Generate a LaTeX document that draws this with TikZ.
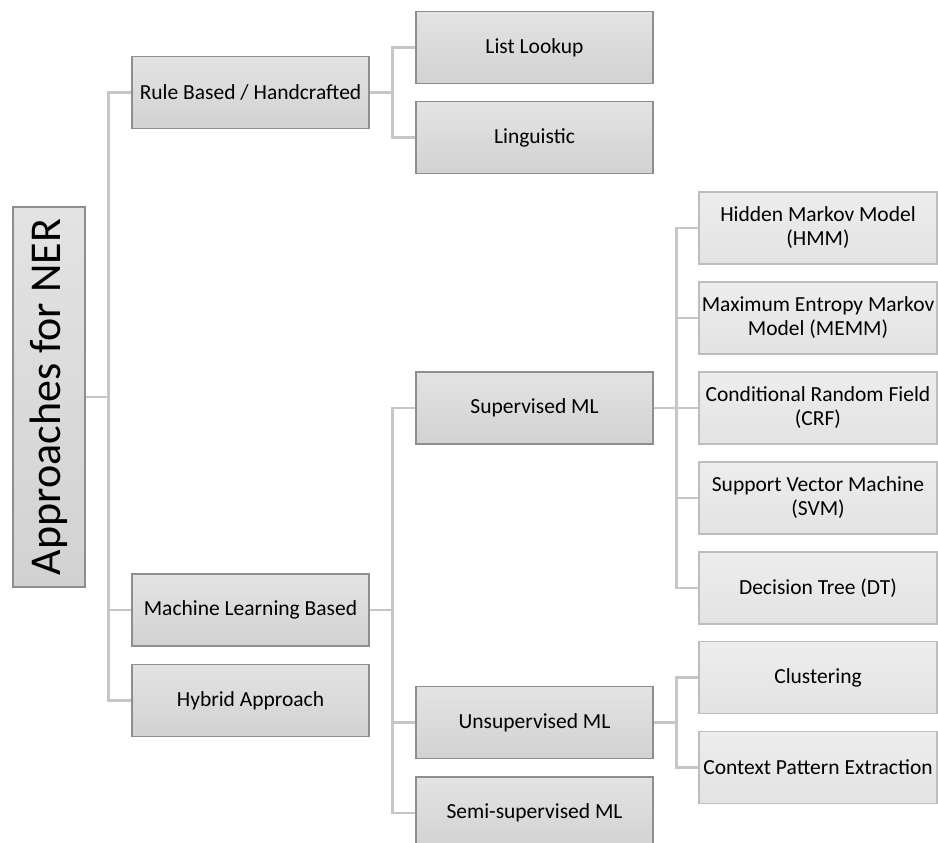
\documentclass[tikz,border=0pt]{standalone}
\usepackage{fontspec}
\setmainfont{Carlito}
\usepackage{tikz}
\usetikzlibrary{positioning}
\definecolor{nerInk}{HTML}{000000}
\definecolor{nerLink}{HTML}{C6C6C6}
\definecolor{nerEdge}{HTML}{8E8E8E}
\definecolor{nerLeafEdge}{HTML}{BDBDBD}
\definecolor{nerTop}{HTML}{E3E3E3}
\definecolor{nerBot}{HTML}{D2D2D2}
\definecolor{nerLeafTop}{HTML}{EDEDED}
\definecolor{nerLeafBot}{HTML}{E3E3E3}
\tikzset{
 nertree/.style={x=1pt,y=-1pt,text=nerInk,font=\fontsize{21.5}{24}\selectfont},
 box/.style={rectangle,draw=nerEdge,top color=nerTop,bottom color=nerBot,line width=1.2pt,
   inner sep=0pt,minimum width=237pt,minimum height=72pt,align=center},
 leaf/.style={box,draw=nerLeafEdge,top color=nerLeafTop,bottom color=nerLeafBot,minimum width=238pt},
 rootbox/.style={box,rotate=90,minimum width=380pt,minimum height=72pt,font=\fontsize{44}{46}\selectfont},
 link/.style={draw=nerLink,line width=2.6pt}
}
\begin{document}
\begin{tikzpicture}[nertree]
 \useasboundingbox (0,0) rectangle (938,843);
 \clip (0,0) rectangle (938,843);
 \node[rootbox] (ner) at (49,397) {Approaches for NER};
 \node[box] (rule) at (250.5,92.5) {Rule Based / Handcrafted};
 \node[box] (mlb) at (250.5,610) {Machine Learning Based};
 \node[box] (hyb) at (250.5,700.5) {Hybrid Approach};
 \node[box] (list) at (534.5,47.5) {List Lookup};
 \node[box] (ling) at (534.5,137.5) {Linguistic};
 \node[box] (sup) at (534.5,408) {Supervised ML};
 \node[box] (unsup) at (534.5,722.5) {Unsupervised ML};
 \node[box] (semi) at (534.5,813) {Semi-supervised ML};
 \node[leaf] (hmm) at (818,228) {Hidden Markov Model\\(HMM)};
 \node[leaf] (memm) at (818,318) {Maximum Entropy Markov\\Model (MEMM)};
 \node[leaf] (crf) at (818,408) {Conditional Random Field\\(CRF)};
 \node[leaf] (svm) at (818,498) {Support Vector Machine\\(SVM)};
 \node[leaf] (dt) at (818,588) {Decision Tree (DT)};
 \node[leaf] (clus) at (818,677.5) {Clustering};
 \node[leaf] (cpe) at (818,767.5) {Context Pattern Extraction};
 \foreach \kid in {rule,mlb,hyb} \draw[link] (ner.south) -- ++(23,0) |- (\kid.west);
 \foreach \kid in {list,ling} \draw[link] (rule.east) -- ++(23,0) |- (\kid.west);
 \foreach \kid in {sup,unsup,semi} \draw[link] (mlb.east) -- ++(23,0) |- (\kid.west);
 \foreach \kid in {hmm,memm,crf,svm,dt} \draw[link] (sup.east) -- ++(23,0) |- (\kid.west);
 \foreach \kid in {clus,cpe} \draw[link] (unsup.east) -- ++(23,0) |- (\kid.west);
\end{tikzpicture}
\end{document}
